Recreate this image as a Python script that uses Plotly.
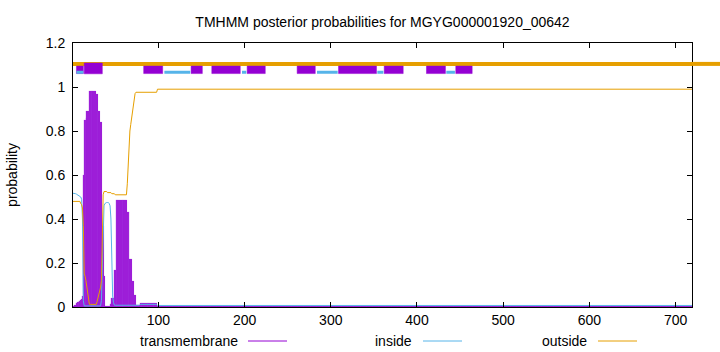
import numpy as np
import plotly.graph_objects as go

seq_len = 719

# Posterior probabilities per residue, residues 1..100
tm_head = [0.005, 0.006, 0.008, 0.01, 0.02, 0.024, 0.025, 0.026, 0.028, 0.03,
           0.035, 0.05, 0.6, 0.85, 0.85, 0.86, 0.89, 0.89, 0.89, 0.983,
           0.983, 0.983, 0.983, 0.983, 0.983, 0.983, 0.983, 0.97, 0.97, 0.89,
           0.89, 0.89, 0.84, 0.84, 0.37, 0.37, 0.14, 0.14, 0.005, 0.004,
           0.004, 0.005, 0.006, 0.015, 0.02, 0.04, 0.04, 0.04, 0.17, 0.17,
           0.486, 0.486, 0.486, 0.486, 0.486, 0.486, 0.486, 0.486, 0.486, 0.486,
           0.486, 0.486, 0.486, 0.43, 0.43, 0.43, 0.22, 0.22, 0.22, 0.12,
           0.12, 0.055, 0.055, 0.008, 0.008, 0.008, 0.008, 0.008, 0.017, 0.017,
           0.017, 0.017, 0.017, 0.017, 0.017, 0.017, 0.017, 0.017, 0.017, 0.017,
           0.017, 0.017, 0.017, 0.017, 0.017, 0.017, 0.017, 0.017, 0.004, 0.004]
inside_head = [0.517, 0.517, 0.516, 0.515, 0.513, 0.511, 0.509, 0.506, 0.503, 0.5,
               0.49, 0.4, 0.03, 0.005, 0.005, 0.005, 0.005, 0.005, 0.005, 0.005,
               0.005, 0.005, 0.005, 0.005, 0.005, 0.005, 0.005, 0.005, 0.005, 0.005,
               0.005, 0.005, 0.005, 0.03, 0.2, 0.43, 0.46, 0.47, 0.475, 0.475,
               0.475, 0.475, 0.47, 0.46, 0.4, 0.2, 0.05, 0.02, 0.008, 0.008,
               0.008, 0.008, 0.008, 0.008, 0.008, 0.008, 0.008, 0.008, 0.008, 0.008,
               0.008, 0.008, 0.008, 0.008, 0.008, 0.008, 0.008, 0.008, 0.008, 0.008,
               0.008, 0.008, 0.008, 0.008, 0.008, 0.008, 0.008, 0.008, 0.012, 0.012,
               0.012, 0.012, 0.012, 0.012, 0.012, 0.012, 0.012, 0.012, 0.012, 0.012,
               0.012, 0.012, 0.012, 0.012, 0.012, 0.012, 0.012, 0.012, 0.007, 0.007]
outside_head = [0.48, 0.48, 0.48, 0.48, 0.48, 0.48, 0.48, 0.48, 0.48, 0.47,
                0.465, 0.45, 0.37, 0.15, 0.14, 0.12, 0.09, 0.06, 0.03, 0.012,
                0.012, 0.012, 0.012, 0.012, 0.012, 0.012, 0.012, 0.012, 0.025, 0.04,
                0.06, 0.08, 0.09, 0.12, 0.43, 0.51, 0.525, 0.525, 0.525, 0.525,
                0.52, 0.52, 0.52, 0.52, 0.52, 0.515, 0.515, 0.515, 0.515, 0.51,
                0.51, 0.51, 0.51, 0.51, 0.51, 0.51, 0.51, 0.51, 0.51, 0.51,
                0.51, 0.51, 0.51, 0.56, 0.65, 0.78, 0.8, 0.83, 0.86, 0.88,
                0.92, 0.95, 0.97, 0.976, 0.976, 0.976, 0.976, 0.976, 0.976, 0.976,
                0.976, 0.976, 0.976, 0.976, 0.976, 0.976, 0.976, 0.976, 0.976, 0.976,
                0.976, 0.976, 0.976, 0.976, 0.976, 0.976, 0.976, 0.976, 0.99, 0.99]
# Residues 101..719 are flat
tm_tail = 0.003
inside_tail = 0.007
outside_tail = 0.99

# Predicted topology segments (residue ranges)
tm_seg_start = [5, 14, 83, 138, 162, 203, 261, 309, 362, 411, 445]
tm_seg_end = [13, 35, 105, 151, 195, 224, 282, 353, 384, 433, 464]
inside_seg_start = [5, 107, 197, 284, 354, 434]
inside_seg_end = [13, 137, 202, 308, 361, 444]
outside_seg_start = [1]
outside_seg_end = [719]

x_ticks = [100, 200, 300, 400, 500, 600, 700]
y_ticks = [0, 0.2, 0.4, 0.6, 0.8, 1.0, 1.2]
y_tick_text = ["0", "0.2", "0.4", "0.6", "0.8", "1", "1.2"]

title_text = "TMHMM posterior probabilities for MGYG000001920_00642"
legend_names = ["transmembrane", "inside", "outside"]

# ---- build series ----
n_head = len(tm_head)
pos = np.arange(1, seq_len + 1)
tail_n = seq_len - n_head
tm = np.concatenate([tm_head, np.full(tail_n, tm_tail)])
inside = np.concatenate([inside_head, np.full(tail_n, inside_tail)])
outside = np.concatenate([outside_head, np.full(tail_n, outside_tail)])

PURPLE = "#9400D3"
BLUE = "#56B4E9"
ORANGE = "#E69F00"
FONT = "Liberation Sans"
FS = 14

fig = go.Figure()

fig.add_trace(go.Bar(x=pos, y=tm, width=1.0,
                     marker=dict(color=PURPLE, line=dict(width=0.15, color="rgba(175,90,230,1)")),
                     showlegend=False, hoverinfo="skip"))
fig.add_trace(go.Scatter(x=pos, y=inside, mode="lines", line=dict(color=BLUE, width=1),
                         showlegend=False))
fig.add_trace(go.Scatter(x=pos, y=outside, mode="lines", line=dict(color=ORANGE, width=1),
                         showlegend=False))

# topology: outside line
OUT_Y = 1.105
ox, oy = [], []
for s, e in zip(outside_seg_start, outside_seg_end):
    ox += [s, e, None]
    oy += [OUT_Y, OUT_Y, None]
fig.add_trace(go.Scatter(x=ox, y=oy, mode="lines", line=dict(color=ORANGE, width=4),
                         showlegend=False))

# topology: TM boxes
bx, by = [], []
for i, (s, e) in enumerate(zip(tm_seg_start, tm_seg_end)):
    lo, hi = 1.061, 1.095
    if i == 1:
        lo, hi = 1.06, 1.109
    bx += [s, e, e, s, s, None]
    by += [lo, lo, hi, hi, lo, None]
fig.add_trace(go.Scatter(x=bx, y=by, mode="lines", fill="toself", fillcolor=PURPLE,
                         line=dict(color=PURPLE, width=0.5), showlegend=False))

# topology: inside line
ix, iy = [], []
for s, e in zip(inside_seg_start, inside_seg_end):
    ix += [s, e, None]
    iy += [1.067, 1.067, None]
fig.add_trace(go.Scatter(x=ix, y=iy, mode="lines", line=dict(color=BLUE, width=3),
                         showlegend=False))

# layout geometry
L, R, T, B = 73, 28, 43, 45
W, H = 720, 352
pw, ph = W - L - R, H - T - B
def px2paper(px):
    return (px - L) / pw
def py2paper(py):
    return (H - B - py) / ph

shapes = []
# the thick outside line runs on past the right border, as in the original
shapes.append(dict(type="line", xref="paper", yref="y", x0=1.0, x1=px2paper(W + 2),
                   y0=OUT_Y, y1=OUT_Y, line=dict(color=ORANGE, width=4), layer="above"))

# legend (gnuplot style: text then sample)
leg_text_right = [240, 414, 589]
leg_line = [(248, 287), (423, 462), (598, 637)]
leg_colors = [PURPLE, BLUE, ORANGE]
leg_y = 341
annotations = []
for name, tr, (a, b), c in zip(legend_names, leg_text_right, leg_line, leg_colors):
    annotations.append(dict(x=px2paper(tr), y=py2paper(leg_y), xref="paper", yref="paper",
                            text=name, showarrow=False, xanchor="right", yanchor="middle",
                            font=dict(family=FONT, size=FS, color="black")))
    shapes.append(dict(type="line", xref="paper", yref="paper",
                       x0=px2paper(a), x1=px2paper(b), y0=py2paper(leg_y), y1=py2paper(leg_y),
                       line=dict(color=c, width=1)))

fig.update_layout(
    width=W, height=H,
    margin=dict(l=L, r=R, t=T, b=B, pad=0),
    paper_bgcolor="white", plot_bgcolor="white",
    bargap=0,
    title=dict(text=title_text, x=0.5, xref="paper", y=1 - 22 / H, yref="container",
               xanchor="center", yanchor="middle",
               font=dict(family=FONT, size=FS, color="black")),
    annotations=annotations,
    shapes=shapes,
    font=dict(family=FONT, size=FS, color="black"),
)
fig.update_xaxes(range=[1, seq_len], tickvals=x_ticks, ticks="inside", ticklen=5,
                 tickcolor="black", showline=True, linecolor="black", linewidth=1,
                 mirror="allticks", showgrid=False, zeroline=False,
                 tickfont=dict(family=FONT, size=FS, color="black"))
fig.update_yaxes(range=[0, 1.2], tickvals=y_ticks, ticktext=y_tick_text, ticks="inside",
                 ticklen=5, tickcolor="black", showline=True, linecolor="black", linewidth=1,
                 mirror="allticks", showgrid=False, zeroline=False, ticklabelstandoff=4,
                 title=dict(text="probability", standoff=24,
                            font=dict(family=FONT, size=FS, color="black")),
                 tickfont=dict(family=FONT, size=FS, color="black"))

fig.write_html("out.html")
